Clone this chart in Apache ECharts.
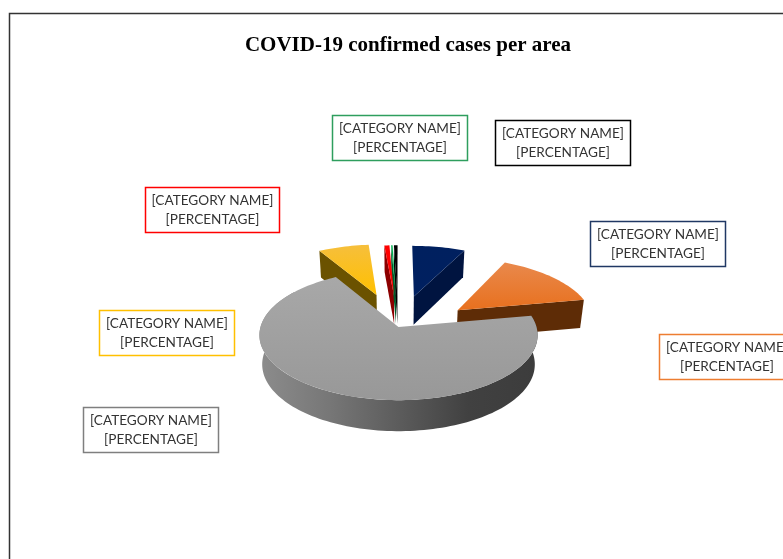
<!DOCTYPE html>
<html>
<head>
<meta charset="utf-8">
<title>COVID-19 confirmed cases per area</title>
<script src="https://cdn.jsdelivr.net/npm/echarts@6/dist/echarts.min.js"></script>
<style>
html, body { margin: 0; padding: 0; background: #fff; }
#main { width: 783px; height: 559px; overflow: hidden; }
</style>
</head>
<body>
<div id="main"></div>
<script>
// values, clockwise from 12 o'clock (percent)
var categories = ['Area 1', 'Area 2', 'Area 3', 'Area 4', 'Area 5', 'Area 6', 'Area 7'];
var cases = [7.3, 14.8, 69.5, 7, 0.7, 0.2, 0.5];
var labelLines = ['[CATEGORY NAME]', '[PERCENTAGE]'];

// slice styling, same order as categories
var exploded = [0.52, 0.56, 0, 0.56, 0.52, 0.52, 0.52];
var shiftY = [0, 4, 0, 0, 0, 0, 0];
var topColors = [['#00205f', '#002060'], ['#e9894c', '#e8701e'], ['#a8a8a8', '#989898'], ['#f6bf3c', '#ffc000'], ['#ff0000', '#ff0000'], ['#00b050', '#00b050'], ['#000000', '#000000']];
var wallColors = ['#001440', '#5e2c06', '#555555', '#6b5200', '#8c0000', '#005c2a', '#000000'];
var labelBoxes = [
	[590, 221, 135, 45, '#203864'],
	[659, 334, 135, 45, '#ed7d31'],
	[83, 407, 135, 45, '#7f7f7f'],
	[99, 310, 135, 45, '#ffc000'],
	[145, 187, 134, 45, '#ff0000'],
	[332, 115, 135, 45, '#2e9e5e'],
	[495, 120, 135, 45, '#000000']
];

var cx = 398.5, cy = 327, rx = 138, ry = 64, depth = 29, persp = 0.125;
var total = cases.reduce(function(a, b) { return a + b; }, 0);

function project(u, v, z) {
	var s = 1 / (1 + persp * v);
	return [cx + rx * u * s * (1 - 0.02 * z), cy - ry * v * s + depth * z * Math.sqrt(s)];
}

function arcPoints(ox, oy, from, to, z) {
	var pts = [];
	var n = Math.max(2, Math.ceil(Math.abs(to - from) / 0.03));
	for (var i = 0; i <= n; i++) {
		var t = from + (to - from) * i / n;
		pts.push(project(ox + Math.sin(t), oy + Math.cos(t), z));
	}
	return pts;
}

function renderSlice(params, api) {
	var i = params.dataIndex;
	var before = 0;
	for (var k = 0; k < i; k++) before += cases[k];
	var a0 = before / total * Math.PI * 2;
	var a1 = (before + api.value(0)) / total * Math.PI * 2;
	var mid = (a0 + a1) / 2;
	var ox = exploded[i] * Math.sin(mid);
	var oy = exploded[i] * Math.cos(mid);
	var z2 = i === 2 ? 10 : 1;
	var children = [];

	function cutFace(a) {
		children.push({
			type: 'polygon',
			z2: z2,
			y: shiftY[i],
			shape: { points: [project(ox, oy, 0), project(ox + Math.sin(a), oy + Math.cos(a), 0), project(ox + Math.sin(a), oy + Math.cos(a), 1), project(ox, oy, 1)] },
			style: { fill: wallColors[i] }
		});
	}
	if (Math.sin(a0) < 0) cutFace(a0);
	if (Math.sin(a1) > 0.01) cutFace(a1);

	// outer rim, only the big slice shows it
	if (i === 2) {
		var rimEnd = Math.min(a1, Math.PI * 1.7);
		children.push({
			type: 'polygon',
			z2: z2,
			shape: { points: arcPoints(ox, oy, a0, rimEnd, 0).concat(arcPoints(ox, oy, a0, rimEnd, 1).reverse()) },
			style: {
				fill: new echarts.graphic.LinearGradient(0, 0, 1, 0, [
					{ offset: 0, color: '#8c8c8c' },
					{ offset: 0.25, color: '#777777' },
					{ offset: 0.5, color: '#5c5c5c' },
					{ offset: 0.75, color: '#414141' },
					{ offset: 1, color: '#3c3c3c' }
				])
			}
		});
	}

	children.push({
		type: 'polygon',
		z2: z2 + 1,
		y: shiftY[i],
		shape: { points: [project(ox, oy, 0)].concat(arcPoints(ox, oy, a0, a1, 0)) },
		style: {
			fill: new echarts.graphic.LinearGradient(0, 0, 0, 1, [
				{ offset: 0, color: topColors[i][0] },
				{ offset: 1, color: topColors[i][1] }
			])
		}
	});

	var box = labelBoxes[i];
	children.push({
		type: 'rect',
		z2: 20,
		shape: { x: box[0] + 0.5, y: box[1] + 0.5, width: box[2], height: box[3] },
		style: { fill: '#fff', stroke: box[4], lineWidth: 1.5 }
	});
	labelLines.forEach(function(line, n) {
		children.push({
			type: 'text',
			z2: 21,
			style: {
				text: line,
				x: box[0] + box[2] / 2 + 0.5,
				y: box[1] + 14 + n * 19,
				align: 'center',
				verticalAlign: 'middle',
				font: '13.6px Lato',
				fill: '#333333'
			}
		});
	});

	return { type: 'group', children: children };
}

var chart = echarts.init(document.getElementById('main'));
chart.setOption({
	backgroundColor: '#fff',
	animation: false,
	title: {
		text: 'COVID-19 confirmed cases per area',
		left: 403,
		top: 30,
		textAlign: 'center',
		textStyle: { fontFamily: 'Liberation Serif', fontWeight: 'bold', fontSize: 21, color: '#000' }
	},
	graphic: [{
		type: 'rect',
		shape: { x: 9.5, y: 13.5, width: 900, height: 700 },
		style: { fill: 'none', stroke: '#333', lineWidth: 1.5 },
		silent: true
	}],
	series: [{
		type: 'custom',
		coordinateSystem: 'none',
		renderItem: renderSlice,
		data: categories.map(function(name, i) { return { name: name, value: [cases[i]] }; })
	}]
});
</script>
</body>
</html>
